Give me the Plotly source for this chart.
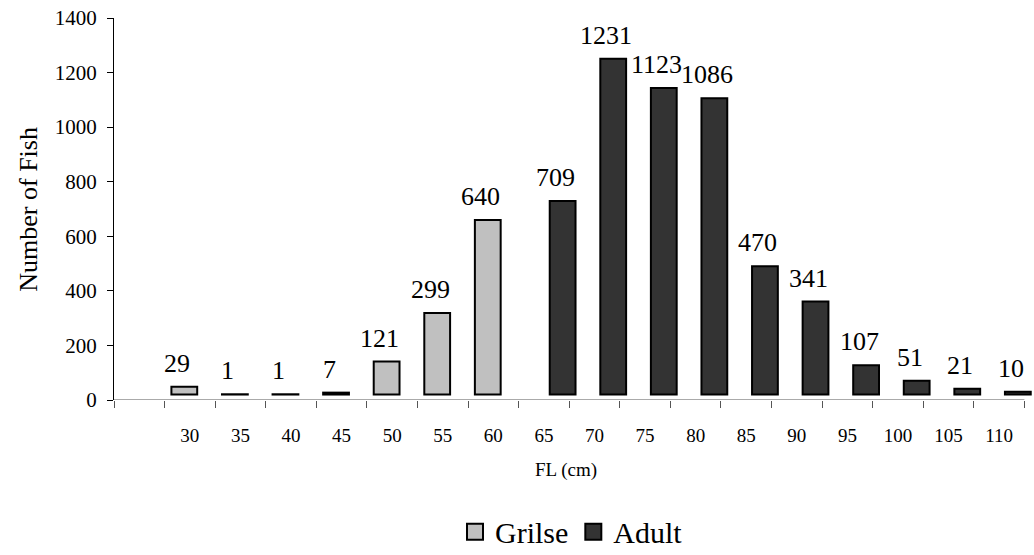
import plotly.graph_objects as go

# Fork length classes (cm) and fish counts per class
fl_classes = [30, 35, 40, 45, 50, 55, 60, 65, 70, 75, 80, 85, 90, 95, 100, 105, 110]
grilse_fl = [30, 35, 40, 45, 50, 55, 60]
grilse_counts = [29, 1, 1, 7, 121, 299, 640]
adult_fl = [65, 70, 75, 80, 85, 90, 95, 100, 105, 110]
adult_counts = [709, 1231, 1123, 1086, 470, 341, 107, 51, 21, 10]
y_ticks = [0, 200, 400, 600, 800, 1000, 1200, 1400]

FONT = "Liberation Serif, Times New Roman, serif"
GRILSE_COLOR = "#C0C0C0"
ADULT_COLOR = "#333333"
BASE = 20          # bars float slightly above the axis line
BAR_W = 0.51


def slot(fl):
    """Category slot index (one slot per 5 cm class)."""
    return (fl - 30) / 5


grilse_x = [slot(v) + 1.39 for v in grilse_fl]
adult_x = [slot(v) + 1.87 for v in adult_fl]

fig = go.Figure()

fig.add_trace(go.Bar(
    x=grilse_x, y=grilse_counts, base=BASE, width=BAR_W,
    marker=dict(color=GRILSE_COLOR, line=dict(color="black", width=2)),
    name="Grilse", showlegend=False, hoverinfo="skip",
))
fig.add_trace(go.Bar(
    x=adult_x, y=adult_counts, base=BASE, width=BAR_W,
    marker=dict(color=ADULT_COLOR, line=dict(color="black", width=2)),
    name="Adult", showlegend=False, hoverinfo="skip",
))

# Legend swatches
for name, col in [("Grilse", GRILSE_COLOR), ("Adult", ADULT_COLOR)]:
    fig.add_trace(go.Scatter(
        x=[None], y=[None], mode="markers", name=name,
        marker=dict(symbol="square", size=16, color=col,
                    line=dict(color="black", width=2)),
    ))

# Value labels above each bar
for xs, vals in [(grilse_x, grilse_counts), (adult_x, adult_counts)]:
    for xv, v in zip(xs, vals):
        fig.add_annotation(
            x=xv, y=BASE + v, text=str(v), showarrow=False,
            xanchor="center", yanchor="bottom", xshift=-7, yshift=7,
            font=dict(family=FONT, size=26, color="black"),
        )

# Category axis line (stops at the last slot boundary)
fig.add_shape(type="line", xref="x", yref="y", x0=0, x1=18, y0=0, y1=0,
              line=dict(color="#555555", width=1))

fig.add_annotation(
    text="FL (cm)", xref="paper", yref="paper", x=0.4924, y=-0.182,
    showarrow=False, xanchor="center", yanchor="middle",
    font=dict(family=FONT, size=19, color="black"),
)
fig.add_annotation(
    text="Number of Fish", xref="paper", yref="paper", x=-0.094, y=0.5,
    showarrow=False, textangle=-90, xanchor="center", yanchor="middle",
    font=dict(family=FONT, size=26, color="black"),
)

fig.update_layout(
    width=1034, height=555,
    margin=dict(l=114, r=2, t=18, b=155),
    paper_bgcolor="white", plot_bgcolor="white",
    barmode="overlay",
    font=dict(family=FONT, color="black"),
    showlegend=True,
    legend=dict(
        orientation="h", xref="container", yref="container",
        x=0.5527, xanchor="center", y=0.042, yanchor="middle",
        font=dict(family=FONT, size=30, color="black"),
        itemsizing="trace", itemwidth=30, bgcolor="rgba(0,0,0,0)",
    ),
    xaxis=dict(
        range=[0, 18.15], showgrid=False, zeroline=False, showline=False,
        tickmode="array", tickvals=[slot(v) + 1.5 for v in fl_classes],
        ticktext=[str(v) for v in fl_classes], ticks="",
        ticklabelstandoff=22,
        tickfont=dict(family=FONT, size=19, color="black"),
        minor=dict(tickmode="array", tickvals=list(range(19)), ticks="outside",
                   ticklen=7, tickwidth=1, tickcolor="#555555", showgrid=False),
        fixedrange=True,
    ),
    yaxis=dict(
        range=[0, 1400], showgrid=False, zeroline=False,
        showline=True, linecolor="black", linewidth=1,
        tickmode="array", tickvals=y_ticks, ticks="outside", ticklen=6,
        tickcolor="black", ticklabelstandoff=6,
        tickfont=dict(family=FONT, size=21, color="black"),
        fixedrange=True,
    ),
)

fig.write_html("out.html")
